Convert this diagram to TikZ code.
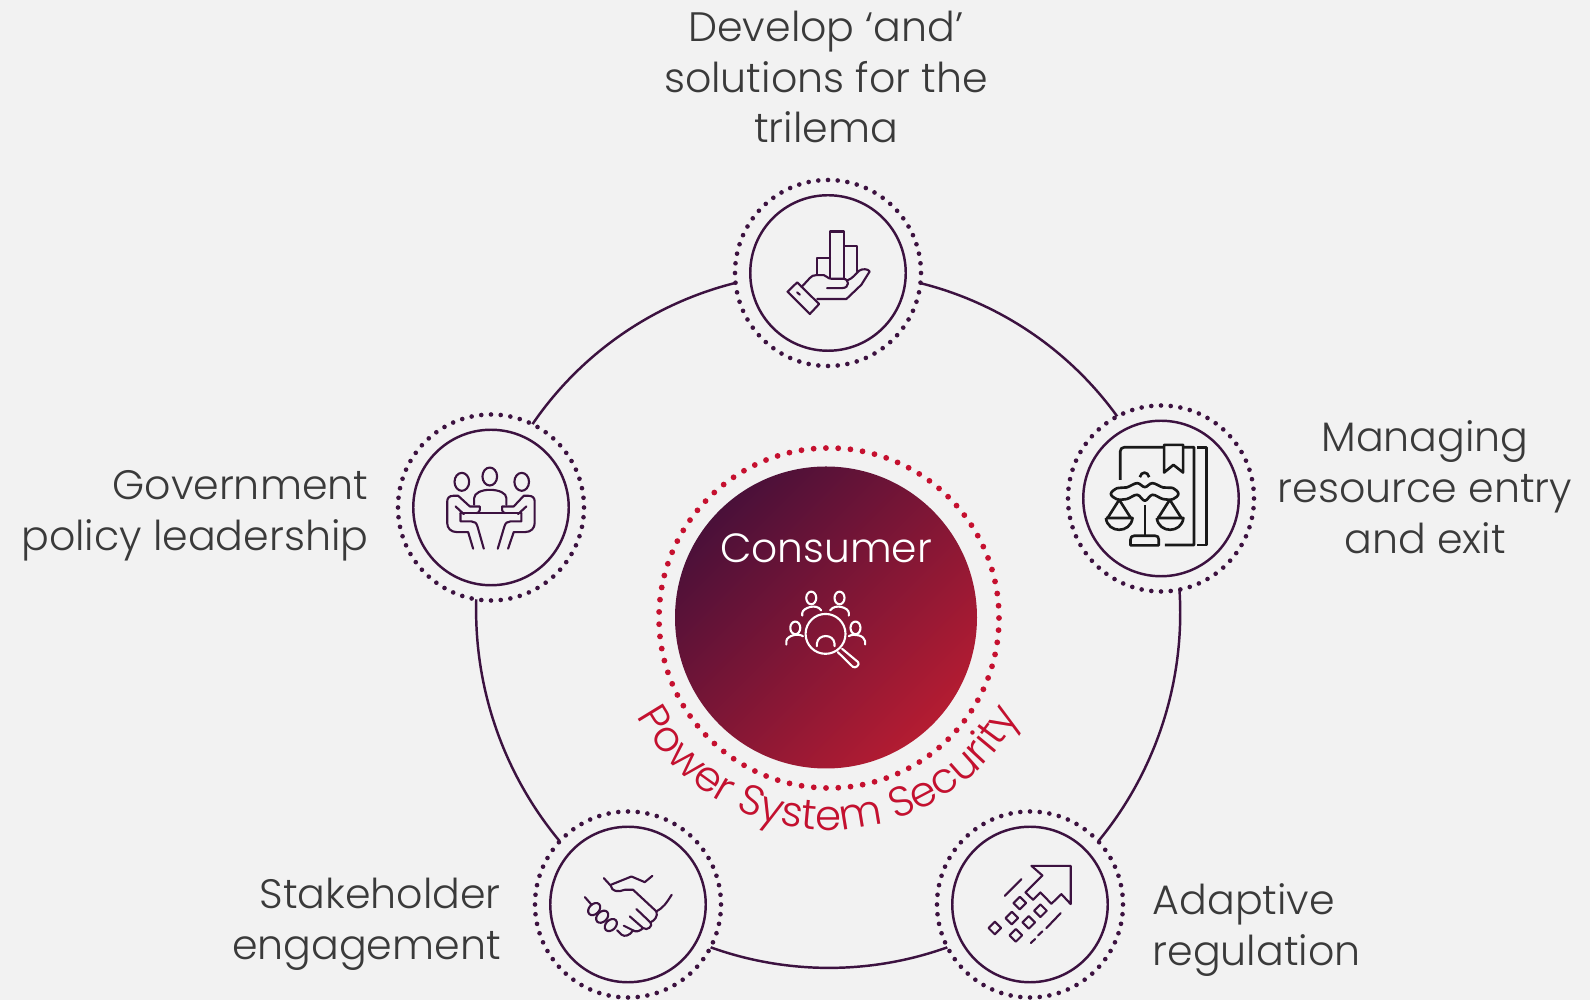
\documentclass[tikz,border=0pt]{standalone}
\usepackage{fontspec}
\setmainfont{Poppins}[UprightFont=* Light]
\usepackage{xcolor}
\usetikzlibrary{calc,backgrounds,decorations.text}
\definecolor{bg}{HTML}{F2F2F2}
\definecolor{plum}{HTML}{3C1240}
\definecolor{inkText}{HTML}{3A3A3A}
\definecolor{secRed}{HTML}{C5102F}
\definecolor{secShade}{HTML}{CFCFCF}
\definecolor{hubDark}{HTML}{4A1039}
\definecolor{hubRed}{HTML}{B41C32}
\tikzset{
  dotRing/.style={circle, draw=plum, fill=bg, minimum size=1.86cm, inner sep=0pt, outer sep=0pt,
    line width=1.32pt, line cap=round, dash pattern=on 0pt off 0.0974cm},
  inRing/.style={circle, draw=plum, minimum size=1.555cm, inner sep=0pt, line width=0.7pt},
  redRing/.style={circle, draw=secRed, minimum size=3.40cm, inner sep=0pt, outer sep=0pt,
    line width=1.65pt, line cap=round, dash pattern=on 0pt off 0.1228cm},
  hubDisc/.style={circle, minimum size=3.02cm, inner sep=0pt, top color=hubDark, bottom color=hubRed, shading angle=45},
  ringLink/.style={draw=plum, line width=0.7pt, looseness=0.94},
  lbl/.style={text=inkText, font=\fontsize{11.7}{14.5}\selectfont, inner sep=0pt},
  hubLbl/.style={text=white, font=\fontsize{11.6}{15}\selectfont, inner sep=0pt},
  iconLine/.style={draw=plum, line width=0.6pt, line join=round, line cap=round},
  iconInk/.style={draw=black!90, line width=0.75pt, line join=round},
  iconWhite/.style={draw=white, line width=0.6pt, line join=round, line cap=round},
  zoomed/.style={x=0.0033333cm, y=-0.0033333cm},
}
\newcommand{\SecurityFont}{\fontsize{11.95}{14.5}\selectfont}
\newcommand{\SecurityArc}{($(arcC)+(160:2.17)$) arc[start angle=160, end angle=20, radius=2.17]}

\begin{document}
\begin{tikzpicture}[x=1cm, y=-1cm]
  \useasboundingbox (0,0) rectangle (15.90,10.00);
  \coordinate (arcC) at (8.28,6.13);

  \node[dotRing] (develop) at (8.28,2.73) {};
  \node[dotRing] (managing) at (11.61,4.985) {};
  \node[dotRing] (adaptive) at (10.30,9.045) {};
  \node[dotRing] (stake) at (6.28,9.045) {};
  \node[dotRing] (policy) at (4.91,5.075) {};
  \node[inRing] (developIn) at (develop) {};
  \node[inRing] (managingIn) at (managing) {};
  \node[inRing] (adaptiveIn) at (adaptive) {};
  \node[inRing] (stakeIn) at (stake) {};
  \node[inRing] (policyIn) at (policy) {};

  \begin{scope}[on background layer]
    \fill[bg] (0,0) rectangle (15.90,10.00);
    \draw[ringLink] (develop.center) to[bend left=35.5] (managing.center);
    \draw[ringLink] (managing.center) to[bend left=37] (adaptive.center);
    \draw[ringLink] (adaptive.center) to[bend left=35] (stake.center);
    \draw[ringLink] (stake.center) to[bend left=35.5] (policy.center);
    \draw[ringLink] (policy.center) to[bend left=36.5] (develop.center);
  \end{scope}

  \node[redRing] (hubRing) at (8.29,6.18) {};
  \node[hubDisc] (hub) at (8.26,6.175) {};
  \node[hubLbl] (hubTxt) at (8.26,5.48) {Consumer};

  % curved label, grey copy first
  \path[xshift=0.035cm, yshift=-0.035cm, decorate, decoration={text along path, text align=center,
    text={|\SecurityFont\color{secShade}|Power System Security}}] \SecurityArc;
  \path[decorate, decoration={text along path, text align=center,
    text={|\SecurityFont\color{secRed}|Power System Security}}] \SecurityArc;

  % outer labels
  \node[lbl, align=center] (developTxt) at (8.26,0.77) {Develop ‘and’\\solutions for the\\trilema};
  \node[lbl, align=center] (managingTxt) at (14.25,4.87) {Managing\\resource entry\\and exit};
  \node[lbl, align=left, anchor=west] (adaptiveTxt) at (11.52,9.30) {Adaptive\\regulation};
  \node[lbl, align=right, anchor=east] (stakeTxt) at (5.015,9.24) {Stakeholder\\engagement};
  \node[lbl, align=right, anchor=east] (policyTxt) at (3.69,5.16) {Government\\policy leadership};

  % hand with bars
  \begin{scope}[xshift=7.20cm, yshift=-1.70cm, zoomed, iconLine]
    \draw (291,313) -- (291,265) -- (331,265);
    \draw (332,325) -- (332,185) -- (372,185) -- (372,325);
    \draw (373,228) -- (411,228) -- (411,305);
    \draw (245,352) -- (270,325) .. controls (276,319) and (280,316) .. (290,316) -- (312,316)
      .. controls (320,316) and (322,327) .. (335,327) -- (370,327)
      .. controls (390,327) and (390,355) .. (368,355) -- (322,355);
    \draw (382,332) .. controls (400,326) and (408,312) .. (418,303) .. controls (428,296) and (445,297) .. (450,305)
      -- (425,345) -- (380,388) -- (292,388);
    \draw (203,366) -- (232,338) -- (298,403) -- (270,433) -- cycle;
    \draw (232,368) -- (240,375);
  \end{scope}

  % scales and book
  \begin{scope}[xshift=10.60cm, yshift=-4.00cm, zoomed, iconInk]
    \draw (181,240) -- (181,155) .. controls (181,147) and (186,142) .. (194,142) -- (403,142) -- (403,436) -- (315,436);
    \draw (413,142) -- (441,142) -- (441,436) -- (413,436);
    \draw[fill=bg] (313,135) -- (370,135) -- (370,218) -- (341,195) -- (313,218) -- cycle;
    \draw (240,232) .. controls (244,214) and (264,214) .. (268,232);
    \draw plot[smooth cycle, tension=0.6] coordinates {(172,265) (200,263) (232,250) (255,262) (278,250) (310,263)
      (340,265) (356,282) (340,298) (310,298) (278,285) (255,303) (232,285) (200,298) (170,298) (153,282)};
    \draw (178,300) -- (143,355) (178,300) -- (213,355);
    \draw (138,355) -- (218,355) .. controls (212,402) and (144,402) .. (138,355);
    \draw (330,300) -- (295,355) (330,300) -- (365,355);
    \draw (291,355) -- (371,355) .. controls (365,402) and (297,402) .. (291,355);
    \draw (255,315) -- (255,405);
    \draw (212,437) -- (212,420) .. controls (212,412) and (216,408) .. (224,408) -- (285,408)
      .. controls (293,408) and (297,412) .. (297,420) -- (297,437) -- cycle;
  \end{scope}

  % meeting table
  \begin{scope}[xshift=3.90cm, yshift=-4.10cm, zoomed, iconLine]
    \draw (216,216) ellipse[x radius=22, y radius=27];
    \draw (300,200) ellipse[x radius=22, y radius=27];
    \draw (396,216) ellipse[x radius=22, y radius=27];
    \draw (253,285) -- (253,265) .. controls (253,250) and (275,240) .. (300,240)
      .. controls (328,240) and (350,250) .. (350,265) -- (350,285);
    \draw (212,310) -- (395,310);
    \draw (212,310) -- (212,335) -- (245,335) .. controls (255,335) and (260,340) .. (263,350) -- (282,417);
    \draw (395,310) -- (395,335) -- (362,335) .. controls (352,335) and (347,340) .. (344,350) -- (324,417);
    \draw (250,417) -- (235,367) -- (200,367) .. controls (183,367) and (172,355) .. (172,340) -- (172,275)
      .. controls (172,265) and (178,258) .. (190,258) -- (205,258) -- (240,290) -- (270,290) -- (270,300) .. controls (270,306) and (266,310) .. (260,310);
    \draw (355,417) -- (372,367) -- (407,367) .. controls (424,367) and (435,355) .. (435,340) -- (435,275)
      .. controls (435,265) and (429,258) .. (417,258) -- (402,258) -- (372,290) -- (337,290) -- (337,300) .. controls (337,306) and (341,310) .. (347,310);
    \draw (197,290) -- (222,313);
    \draw (410,290) -- (385,313);
  \end{scope}

  % handshake
  \begin{scope}[xshift=5.30cm, yshift=-8.00cm, zoomed, iconLine]
    \draw (222,235) -- (243,258) .. controls (245,275) and (265,278) .. (285,270) -- (310,270) -- (380,335);
    \draw (243,255) -- (305,230) -- (345,247) -- (368,228);
    \draw (380,335) .. controls (400,325) and (410,310) .. (426,285);
    \draw (380,335) .. controls (385,350) and (375,362) .. (362,368);
    \draw (320,328) -- (362,368) .. controls (372,378) and (352,395) .. (340,385) -- (300,350);
    \draw (340,385) .. controls (330,395) and (318,398) .. (310,392) -- (282,378);
    \draw (310,392) .. controls (300,408) and (285,412) .. (275,405) -- (262,392);
    \draw (165,292) -- (185,315);
    \foreach \cx/\cy in {193/328, 217/351, 243/376}{
      \draw[rotate around={45:(\cx,\cy)}] (\cx,\cy) ellipse[x radius=21, y radius=15];
    }
  \end{scope}

  % rising arrow
  \begin{scope}[xshift=9.30cm, yshift=-8.00cm, zoomed, iconLine]
    \draw (305,198) -- (423,198) -- (423,313) -- (395,283) -- (365,312) -- (332,278) -- (310,300) -- (287,278) -- (338,227) -- cycle;
    \draw (225,288) -- (275,238);
    \draw (350,385) -- (393,340);
    \draw (325,407) -- (338,395);
    \draw (303,430) -- (316,418);
    \foreach \cx/\cy in {270/310, 332/333, 246/355, 297/368, 195/385, 258/407}{
      \draw (\cx-19,\cy) -- (\cx,\cy-19) -- (\cx+19,\cy) -- (\cx,\cy+19) -- cycle;
    }
  \end{scope}

  % people under the lens
  \begin{scope}[xshift=6.20cm, yshift=-4.30cm, zoomed, iconWhite]
    \foreach \cx/\cy in {575/505, 660/505, 527/595, 708/595}{
      \draw (\cx,\cy) ellipse[x radius=15, y radius=19];
    }
    \draw (548,558) -- (548,550) .. controls (550,535) and (590,520) .. (605,542);
    \draw (632,542) .. controls (648,520) and (688,535) .. (688,550) -- (688,558);
    \draw (500,645) -- (500,635) .. controls (502,618) and (535,610) .. (550,620);
    \draw (688,620) .. controls (703,610) and (735,618) .. (737,635) -- (737,645);
    \draw (618,613) circle[radius=60];
    \draw (592,650) -- (592,642) .. controls (595,612) and (642,612) .. (645,642) -- (645,650);
    \draw (668,658) -- (716,698) .. controls (722,706) and (708,718) .. (700,712) -- (655,668);
  \end{scope}
\end{tikzpicture}
\end{document}
